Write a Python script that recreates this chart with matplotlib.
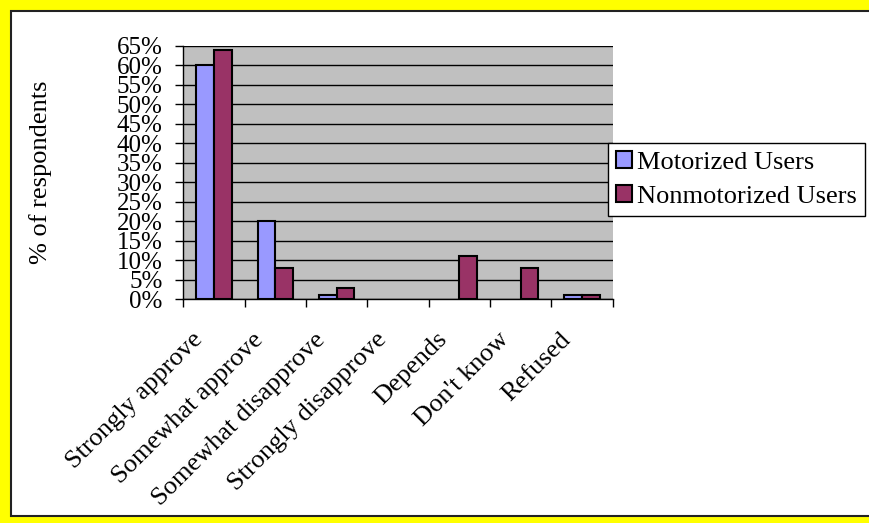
import matplotlib
matplotlib.use("Agg")
import matplotlib.pyplot as plt
import matplotlib.transforms as mtransforms
import numpy as np
from matplotlib.patches import Rectangle

categories = ["Strongly approve", "Somewhat approve", "Somewhat disapprove",
              "Strongly disapprove", "Depends", "Don't know", "Refused"]
motorized = [60, 20, 1, 0, 0, 0, 1]
nonmotorized = [64, 8, 3, 0, 11, 8, 1]
series_names = ["Motorized Users", "Nonmotorized Users"]
yticks = list(range(0, 70, 5))
ytick_labels = [f"{v}%" for v in yticks]

plt.rcParams["font.family"] = ["Liberation Serif", "DejaVu Serif"]
FS = 19

fig = plt.figure(figsize=(8.7, 5.23), dpi=100)
fig.patch.set_facecolor("#FFFF00")

# white chart panel with dark frame, behind everything
panel = Rectangle((11 / 870, 7 / 523), 1.0, 505 / 523, transform=fig.transFigure,
                  facecolor="white", edgecolor="#222222", linewidth=1.5, zorder=-10)
fig.patches.append(panel)

ax = fig.add_axes([183.3 / 870, 1 - 299.3 / 523, (612.7 - 183.3) / 870, (299.3 - 46) / 523])
ax.set_facecolor("#C0C0C0")

x = np.arange(len(categories))
w = 0.29


def edge_widths(values):
    # no outline for empty bars
    return [1.5 if v > 0 else 0 for v in values]


b1 = ax.bar(x - w / 2, motorized, w, color="#9999FF", edgecolor="black",
            linewidth=edge_widths(motorized), label=series_names[0], zorder=3)
b2 = ax.bar(x + w / 2, nonmotorized, w, color="#993366", edgecolor="black",
            linewidth=edge_widths(nonmotorized), label=series_names[1], zorder=3)

ax.set_xlim(-0.5, len(categories) - 0.5)
ax.set_ylim(0, 65)
ax.set_yticks(yticks)
ax.set_yticklabels(ytick_labels, fontsize=18)
ax.yaxis.grid(True, color="black", linewidth=1.0, zorder=1)
ax.set_axisbelow(True)

# category boundaries carry the tick marks
ax.set_xticks([])
ax.set_xticks(np.arange(-0.5, len(categories)), minor=True)
ax.tick_params(axis="x", which="minor", length=6, width=1, direction="out", color="black")
ax.tick_params(axis="y", length=6, width=1, direction="out", pad=9)

# slanted category names, ending just left of each category centre
label_shift = mtransforms.ScaledTranslation(-0.15, -0.37, fig.dpi_scale_trans)
label_tr = mtransforms.blended_transform_factory(ax.transData, ax.transAxes) + label_shift
for i, name in enumerate(categories):
    ax.text(i, 0, name, transform=label_tr, fontsize=FS, rotation=45,
            ha="right", va="center", rotation_mode="anchor")

for side in ["top", "right"]:
    ax.spines[side].set_visible(False)
for side in ["left", "bottom"]:
    ax.spines[side].set_color("black")
    ax.spines[side].set_linewidth(1.0)

ax.set_ylabel("% of respondents", fontsize=FS)
ax.yaxis.set_label_coords(-0.305, 0.5)

leg = fig.legend(handles=[b1, b2], labels=series_names, loc="upper left",
                 bbox_to_anchor=(608 / 870, 1 - 143 / 523), fontsize=FS,
                 frameon=True, fancybox=False, edgecolor="black", framealpha=1,
                 handlelength=0.6, handleheight=0.6, handletextpad=0.2,
                 labelspacing=0.45, borderpad=0.3, borderaxespad=0)
leg.get_frame().set_linewidth(1.0)
for h in leg.legend_handles:
    h.set_linewidth(1.5)

fig.savefig("out.png", dpi=100, facecolor=fig.get_facecolor())
